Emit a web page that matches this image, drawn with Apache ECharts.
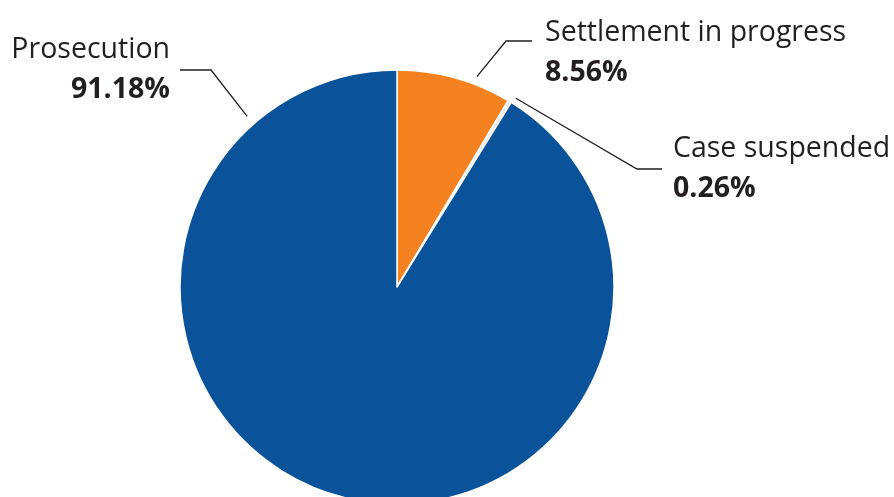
<!DOCTYPE html>
<html><head><meta charset="utf-8">
<script src="https://cdn.jsdelivr.net/npm/echarts@6/dist/echarts.min.js"></script>
<style>html,body{margin:0;padding:0;background:#fff}#c{width:894px;height:497px}</style>
</head><body><div id="c"></div>
<script>
const categories = ['Settlement in progress', 'Case suspended', 'Prosecution'];
const values = [8.56, 0.26, 91.18];
const colors = ['#f58220', '#e8e8e8', '#0a539a'];

const CX = 397, CY = 287, R = 217;
const chart = echarts.init(document.getElementById('c'), null, {renderer: 'canvas'});
// label placement: text anchor, line start angle (deg) & distance, elbow, end
const labelSpec = [
  {x: 545, y: 53, align: 'left', ang: 69.2, dist: 225, elbow: [506, 41], end: [532, 41]},
  {x: 673, y: 168.5, align: 'left', ang: 57.8, dist: 223, elbow: [637, 169], end: [662, 169]},
  {x: 170, y: 69.5, align: 'right', ang: 131.3, dist: 227, elbow: [211, 70], end: [180, 70]}
];
chart.setOption({
  animation: false,
  series: [{
    type: 'pie',
    center: [CX, CY],
    radius: R,
    startAngle: 90,
    clockwise: true,
    itemStyle: {borderColor: '#fff', borderWidth: 1.5},
    data: categories.map((n, i) => ({name: n, value: values[i], itemStyle: {color: colors[i]}})),
    label: {
      show: true,
      formatter: p => '{n|' + p.name + '}\n{v|' + p.value.toFixed(2) + '%}',
      rich: {
        n: {fontFamily: 'Open Sans', fontSize: 28.5, color: '#231f20', lineHeight: 40},
        v: {fontFamily: 'Open Sans', fontSize: 28.5, fontWeight: 'bold', color: '#231f20', lineHeight: 40}
      }
    },
    labelLine: {show: true, lineStyle: {color: '#231f20', width: 1.3}, length: 20, length2: 20},
    labelLayout: function (params) {
      const s = labelSpec[params.dataIndex];
      const a = s.ang * Math.PI / 180;
      const p0 = [CX + s.dist * Math.cos(a), CY - s.dist * Math.sin(a)];
      return {
        x: s.x, y: s.y, align: s.align, verticalAlign: 'middle',
        labelLinePoints: [p0, s.elbow, s.end]
      };
    }
  }]
});
</script></body></html>
